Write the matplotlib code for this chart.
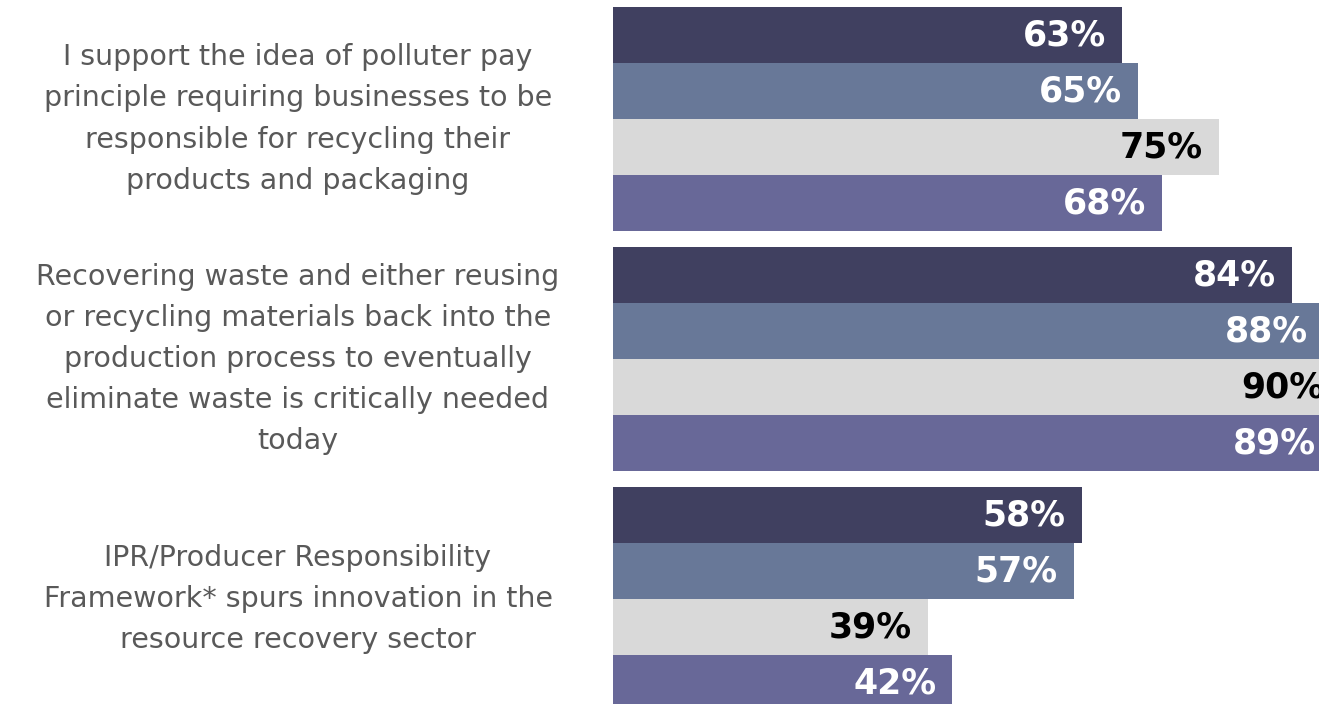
import matplotlib
matplotlib.use("Agg")
import matplotlib.pyplot as plt

# --- data ---------------------------------------------------------------------------------
statements = [
    "I support the idea of polluter pay\nprinciple requiring businesses to be\n"
    "responsible for recycling their\nproducts and packaging",
    "Recovering waste and either reusing\nor recycling materials back into the\n"
    "production process to eventually\neliminate waste is critically needed\ntoday",
    "IPR/Producer Responsibility\nFramework* spurs innovation in the\nresource recovery sector",
]
series_values = [
    [63, 84, 58],
    [65, 88, 57],
    [75, 90, 39],
    [68, 89, 42],
]
bar_colors = ["#404060", "#687898", "#d9d9d9", "#686898"]
label_colors = ["white", "white", "black", "white"]

W, H = 1319, 704
DPI = 100
PX_PER_PCT = 8.08          # bar length scale (pixels per %)
AX_LEFT = 613              # left edge of the bars (px)
BAR_H = 56                 # bar thickness (px)
GROUP_PITCH = 240          # distance between group tops (px)
TOP = 7                    # top of the first bar (px)

fig = plt.figure(figsize=(W / DPI, H / DPI), dpi=DPI)
ax = fig.add_axes([AX_LEFT / W, 0, 1 - AX_LEFT / W, 1])
ax.set_xlim(0, (W - AX_LEFT) / PX_PER_PCT)
ax.set_ylim(H / BAR_H, 0)   # y in units of one bar height, top down
ax.axis("off")

for i, vals in enumerate(series_values):
    for g, v in enumerate(vals):
        y = (TOP + g * GROUP_PITCH + i * BAR_H) / BAR_H + 0.5
        ax.barh(y, v, height=1.0, color=bar_colors[i], edgecolor="none")
        ax.text(v - 16 / PX_PER_PCT, y, f"{v}%", ha="right", va="center",
                color=label_colors[i], fontsize=25, fontweight="bold", clip_on=True)

for g, s in enumerate(statements):
    yc = (TOP + g * GROUP_PITCH + 2 * BAR_H) / BAR_H
    ax.text((298 - AX_LEFT) / PX_PER_PCT, yc, s, ha="center", va="center",
            multialignment="center", color="#595959", fontsize=20.5, linespacing=1.6,
            clip_on=False)

fig.savefig("out.png", dpi=DPI)
